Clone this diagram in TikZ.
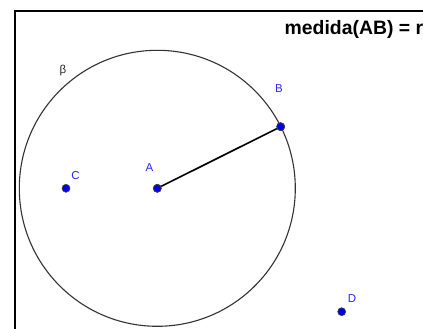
\documentclass[tikz,border=0pt]{standalone}
\usepackage{fontspec}
\setmainfont{Liberation Sans}
\definecolor{ptblue}{RGB}{0,0,230}
\definecolor{lblue}{RGB}{40,40,255}
\begin{document}
\begin{tikzpicture}[x=1pt,y=-1pt,
  pnt/.style={circle,fill=ptblue,draw=black!75,line width=0.6pt,inner sep=0pt,minimum size=8pt},
  lbl/.style={text=lblue,font=\fontsize{11.5}{13}\selectfont,inner sep=0pt},
  frame/.style={line width=2pt,black},
  circ/.style={line width=1.1pt,black!80},
  seg/.style={line width=1.6pt,black}]
\useasboundingbox (0,0) rectangle (423,329);
\clip (0,0) rectangle (423,329);
\fill[white] (0,0) rectangle (423,329);
% frame (extends beyond the visible area)
\coordinate (f1) at (15,345);
\coordinate (f2) at (15,11.5);
\coordinate (f3) at (445,11.5);
\draw[frame] (f1) -- (f2) -- (f3);
% circle beta
\coordinate (cen) at (157.3,188.3);
\draw[circ] (cen) circle[radius=138];
\node[font=\fontsize{11.5}{13}\selectfont,text=black!85,inner sep=0pt] (beta) at (63,71) {β};
% points
\node[pnt] (A) at (157.3,188.3) {};
\node[pnt] (B) at (280.7,126.7) {};
\node[pnt] (C) at (66,188.3) {};
\node[pnt] (D) at (341.7,311.7) {};
% segment AB
\draw[seg] (A) -- (B);
\node[pnt] at (A) {};
\node[pnt] at (B) {};
% labels
\node[lbl] (lA) at (149.5,167.5) {A};
\node[lbl] (lB) at (279,88.5) {B};
\node[lbl] (lC) at (75.5,175.5) {C};
\node[lbl] (lD) at (352,298.3) {D};
% title
\node[anchor=base west,inner sep=0pt,font=\bfseries\fontsize{19.4}{21}\selectfont] (title) at (284.5,35) {medida(AB) = r};
\end{tikzpicture}
\end{document}
